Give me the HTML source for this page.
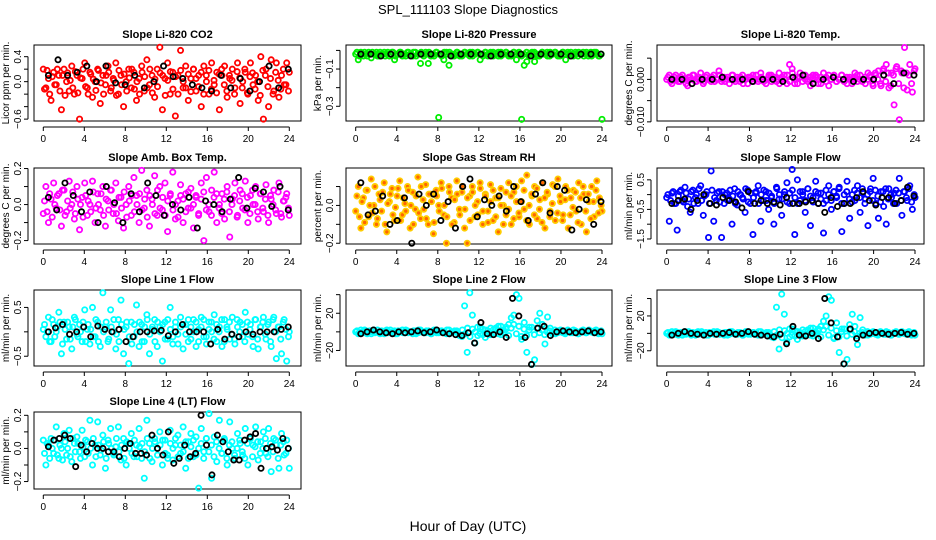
<!DOCTYPE html>
<html><head><meta charset="utf-8">
<style>
html,body{margin:0;padding:0;background:#fff;}
svg{display:block;font-family:"Liberation Sans",sans-serif;}
</style></head>
<body>
<svg id="chart" width="936" height="540" viewBox="0 0 936 540" xmlns="http://www.w3.org/2000/svg">
<text x="468" y="14" text-anchor="middle" font-size="13">SPL_111103  Slope Diagnostics</text>
<text x="468" y="531" text-anchor="middle" font-size="14">Hour of Day (UTC)</text>
</svg>
<script>
const hourTicks = [0,4,8,12,16,20,24];

const co2Vals = [0.2,-0.1,0.05,-0.3,0.15,-0.05,0.1,-0.45,0.2,0.0,-0.15,0.25,-0.2,0.1,-0.6,0.05,0.3,-0.1,0.15,-0.25,0.0,0.2,-0.35,0.1,-0.05,0.25,-0.15,0.05,0.3,-0.2,0.1,-0.4,0.0,0.2,-0.1,0.15,-0.3,0.05,0.25,-0.15,0.35,-0.05,0.1,-0.25,0.2,0.55,-0.45,0.05,0.3,-0.2,0.15,-0.55,0.1,0.5,-0.1,0.25,-0.3,0.05,0.2,-0.15,0.1,-0.4,0.25,0.0,-0.2,0.3,-0.05,0.15,-0.45,0.1,0.25,-0.25,0.05,0.2,-0.1,0.3,-0.35,0.0,0.15,-0.2,0.3,-0.05,0.1,-0.3,0.4,-0.6,0.2,-0.4,0.35,-0.15,0.3,-0.25,0.1,-0.05,0.3,0.15];
const co2Vals2 = [-0.12,0.18,-0.2,0.08,-0.05,0.2,-0.15,0.1,-0.22,0.14,0.02,-0.1,0.16,-0.18,0.06,0.2,-0.08,-0.2,0.12,0.04,-0.14,0.18,-0.02,-0.2,0.1,0.15,-0.1,0.02,-0.22,0.18,-0.05,0.12,-0.15,0.06,0.2,-0.12,0.0,-0.2,0.15,0.08,-0.1,0.2,-0.18,0.04,-0.08,0.14,0.1,-0.22,0.02,0.16,-0.12,0.08,-0.2,0.18,0.0,-0.1,0.12,-0.16,0.2,0.05,-0.08,0.15,-0.2,0.1,0.18,-0.12,0.02,-0.18,0.12,0.2,-0.05,-0.15,0.1,0.02,-0.2,0.16,0.06,-0.1,0.2,-0.18,0.08,0.14,-0.12,0.0,-0.22,0.18,0.1,-0.08,0.05,-0.2,0.15,0.02,-0.12,0.2,-0.05,-0.15];
const co2Black = [0.1,0.35,0.1,0.15,0.25,0.0,0.25,-0.02,-0.05,0.1,-0.1,0.0,0.25,0.08,0.05,-0.05,-0.1,-0.15,0.1,-0.1,0.05,-0.15,0.0,0.25,-0.1,0.2];

const presVals = [-0.02,-0.05,-0.01,-0.03,-0.02,-0.01,-0.04,-0.02,-0.01,-0.03,-0.02,-0.01,-0.02,-0.03,-0.01,-0.05,-0.02,-0.01,-0.03,-0.02,-0.01,-0.02,-0.03,-0.01,-0.02,-0.07,-0.02,-0.01,-0.07,-0.03,-0.02,-0.01,-0.36,-0.02,-0.05,-0.01,-0.08,-0.02,-0.03,-0.01,-0.02,-0.03,-0.01,-0.02,-0.03,-0.01,-0.02,-0.01,-0.05,-0.02,-0.01,-0.03,-0.02,-0.01,-0.02,-0.03,-0.01,-0.02,-0.01,-0.03,-0.02,-0.01,-0.05,-0.02,-0.37,-0.08,-0.06,-0.02,-0.01,-0.06,-0.03,-0.02,-0.01,-0.02,-0.03,-0.01,-0.02,-0.01,-0.03,-0.02,-0.01,-0.05,-0.02,-0.01,-0.03,-0.02,-0.01,-0.02,-0.03,-0.01,-0.02,-0.03,-0.01,-0.02,-0.03,-0.37];
const presVals2 = [-0.01,-0.03,-0.02,-0.01,-0.03,-0.02,-0.01,-0.02,-0.03,-0.01,-0.02,-0.03,-0.01,-0.02,-0.01,-0.03,-0.02,-0.01,-0.02,-0.03,-0.01,-0.02,-0.01,-0.03,-0.02,-0.01,-0.03,-0.02,-0.01,-0.02,-0.03,-0.01,-0.02,-0.03,-0.01,-0.02,-0.01,-0.03,-0.02,-0.01,-0.03,-0.02,-0.01,-0.02,-0.01,-0.03,-0.02,-0.01,-0.02,-0.03,-0.01,-0.02,-0.01,-0.03,-0.02,-0.01,-0.03,-0.02,-0.01,-0.02,-0.03,-0.01,-0.02,-0.01,-0.03,-0.02,-0.01,-0.03,-0.02,-0.01,-0.02,-0.03,-0.01,-0.02,-0.01,-0.03,-0.02,-0.01,-0.02,-0.03,-0.01,-0.02,-0.01,-0.03,-0.02,-0.01,-0.03,-0.02,-0.01,-0.02,-0.03,-0.01,-0.02,-0.01,-0.03,-0.02];
const presBlack = [-0.02,-0.02,-0.03,-0.02,-0.02,-0.03,-0.02,-0.02,-0.02,-0.03,-0.02,-0.02,-0.02,-0.03,-0.02,-0.02,-0.02,-0.03,-0.02,-0.02,-0.02,-0.03,-0.02,-0.02,-0.02];

const tempVals = [0.0,0.001,-0.001,0.0005,0.0,-0.0005,0.001,0.0,-0.0015,0.0005,0.001,-0.0005,0.0,0.0015,-0.001,0.0005,0.0,-0.0005,0.001,0.0,0.002,-0.0005,0.0005,0.0,-0.001,0.001,0.0,0.0005,-0.0005,0.001,0.0,-0.001,0.0005,0.001,0.0,-0.0005,0.0015,0.0,-0.001,0.0005,0.001,0.0,-0.0005,0.0015,0.0,0.001,-0.001,0.0035,0.0025,-0.001,0.0005,0.0015,-0.0005,0.001,0.0,-0.0015,0.001,0.0005,0.0,-0.001,0.0015,0.0005,-0.0015,0.0,0.001,-0.0005,0.0,0.001,0.0,-0.001,0.0005,0.0,0.0015,-0.0005,0.001,0.0,-0.001,0.0015,0.0005,-0.0015,0.001,0.002,-0.0015,0.0025,0.0035,-0.002,0.0015,-0.006,0.003,-0.0095,0.0015,0.0075,-0.0025,0.0035,-0.003,0.0025];
const tempVals2 = [0.0005,-0.0005,0.0,0.001,-0.0005,0.0005,0.0,-0.001,0.0005,0.0,0.001,-0.0005,0.0005,0.0,-0.0005,0.001,0.0,0.0005,-0.0005,0.0,0.001,0.0,-0.0005,0.0005,0.0,0.001,-0.0005,0.0,0.0005,-0.001,0.0,0.0005,0.0,-0.0005,0.001,0.0,0.0005,-0.0005,0.0,0.001,-0.0005,0.0005,0.0,-0.001,0.0005,0.0,0.001,-0.0005,0.0015,0.0,-0.001,0.0005,0.001,0.0,-0.0005,0.0005,0.0,0.001,-0.001,0.0005,0.0,-0.0005,0.001,0.0,0.0005,-0.0005,0.0,0.001,-0.0005,0.0005,0.0,-0.001,0.0005,0.001,0.0,-0.0005,0.0005,0.0,0.001,-0.001,0.0015,0.0,-0.001,0.002,-0.0005,0.0015,-0.0015,0.001,0.0025,-0.001,0.002,-0.002,0.0015,0.001,-0.001,0.002];
const tempBlack = [0.0,0.0,-0.001,0.0,0.0,0.0005,0.0,0.0,-0.0005,0.0,0.0,-0.0005,0.0005,0.001,-0.001,0.0,0.0005,0.0,-0.0005,0.0,0.0,0.001,-0.001,0.0015,0.001];

const ambVals = [-0.05,0.1,-0.1,0.03,0.12,-0.02,0.06,-0.12,0.08,-0.04,0.13,0.0,-0.08,0.1,-0.14,0.04,0.12,-0.06,0.0,0.13,-0.1,0.06,-0.03,0.1,-0.12,0.02,0.08,-0.05,0.12,-0.09,0.04,-0.13,0.0,0.1,-0.06,0.15,0.05,-0.1,0.19,-0.02,0.08,-0.12,0.03,0.16,-0.06,0.1,-0.03,0.12,-0.15,0.05,0.18,-0.08,0.02,0.11,-0.1,0.06,-0.02,0.09,-0.13,0.04,-0.05,0.12,-0.2,0.15,-0.04,0.08,0.18,-0.1,0.0,0.06,-0.08,0.1,-0.18,0.03,0.12,-0.06,0.08,-0.02,0.13,-0.1,0.05,0.0,0.1,-0.08,0.06,-0.04,0.11,-0.1,0.03,0.08,-0.05,0.12,-0.07,0.02,0.06,-0.06];
const ambVals2 = [0.02,-0.04,0.06,-0.07,0.0,0.05,-0.03,0.08,-0.06,0.02,-0.02,0.07,-0.05,0.03,0.0,-0.07,0.05,0.02,-0.04,0.07,-0.02,0.0,0.06,-0.06,0.03,-0.03,0.08,0.0,-0.05,0.04,-0.02,0.07,-0.07,0.02,0.05,-0.04,0.0,0.06,-0.03,0.03,-0.07,0.05,0.0,-0.05,0.08,-0.02,0.04,-0.06,0.02,0.06,-0.03,0.0,-0.07,0.05,0.03,-0.04,0.07,-0.02,0.0,0.05,-0.06,0.03,0.07,-0.03,0.0,-0.06,0.04,0.06,-0.02,-0.05,0.03,0.07,-0.04,0.0,0.05,-0.07,0.02,0.06,-0.03,0.04,-0.05,0.08,0.0,-0.04,0.06,-0.02,0.03,-0.06,0.05,0.0,-0.03,0.07,-0.05,0.02,0.04,-0.02];
const ambBlack = [0.04,-0.03,0.12,0.05,-0.04,0.07,-0.1,0.1,0.01,-0.1,0.06,-0.04,0.12,0.05,-0.06,0.0,-0.03,0.04,-0.13,0.02,0.0,-0.04,0.03,0.15,-0.02,0.09,0.07,-0.01,0.1,-0.03];

const rhVals = [-0.03,0.1,-0.12,0.04,0.08,-0.06,0.14,0.0,-0.1,0.06,-0.03,0.12,-0.14,0.02,0.09,-0.08,0.05,0.13,-0.05,0.01,0.1,-0.12,0.07,-0.02,0.15,-0.07,0.03,0.11,-0.1,0.06,-0.15,0.08,0.0,0.12,-0.05,-0.2,0.1,0.04,-0.09,0.13,-0.02,0.07,-0.12,-0.2,0.05,0.1,-0.06,0.02,0.12,-0.1,0.06,-0.03,0.11,-0.08,0.04,-0.14,0.09,0.0,-0.05,0.12,-0.1,0.07,0.02,-0.06,0.13,-0.02,0.16,-0.1,0.05,0.1,-0.07,0.03,0.12,-0.12,0.06,-0.03,0.11,-0.08,0.14,0.02,-0.05,0.1,-0.12,0.04,0.08,-0.03,0.12,-0.1,0.06,-0.14,0.02,0.1,-0.06,0.13,0.04,-0.03];
const rhVals2 = [0.05,-0.06,0.02,-0.09,0.08,0.0,-0.04,0.1,-0.07,0.03,0.07,-0.1,0.01,0.06,-0.05,-0.01,0.09,-0.08,0.04,-0.03,0.08,0.0,-0.1,0.05,-0.04,0.1,-0.02,-0.07,0.06,0.02,-0.09,0.05,-0.03,0.09,0.0,-0.06,0.07,-0.1,0.03,0.06,-0.05,0.1,-0.02,0.04,-0.08,0.07,0.0,-0.05,0.09,-0.03,0.05,-0.09,0.02,0.08,-0.06,0.04,0.0,-0.1,0.07,-0.02,0.05,-0.07,0.1,-0.04,0.02,0.08,-0.08,0.0,0.06,-0.05,0.09,-0.02,-0.09,0.04,0.07,-0.06,0.01,0.1,-0.04,0.05,-0.08,0.03,0.08,-0.05,-0.01,0.07,-0.09,0.04,0.1,-0.03,0.06,-0.07,0.02,0.08,-0.04,0.0];
const rhBlack = [0.12,-0.05,-0.03,0.05,-0.1,-0.08,0.04,-0.2,0.06,0.0,0.06,-0.08,0.02,-0.12,0.1,0.14,-0.06,0.03,0.0,0.05,-0.03,0.1,0.02,-0.08,0.06,0.12,-0.04,0.1,0.08,-0.13,-0.02,0.03,-0.1,0.02];

const flowVals = [-0.1,-0.9,0.05,-0.3,-1.2,0.1,-0.2,0.25,-0.4,-0.6,0.15,-0.1,-0.3,0.3,-0.7,0.0,-1.45,0.8,-0.9,-0.2,0.1,-1.45,-0.3,0.05,-0.15,-1.0,0.2,-0.35,0.0,-0.1,-0.6,0.15,-0.3,-1.35,0.05,0.3,-0.9,-0.2,0.1,-0.5,-0.1,-1.0,0.25,-0.15,-0.7,0.0,0.4,-0.3,0.85,-1.35,0.5,-0.2,0.1,-0.6,0.2,-1.05,-0.1,0.45,-0.3,0.05,-1.3,-0.2,0.3,-0.5,0.1,-0.1,0.25,-1.25,-0.3,0.45,-0.8,0.0,-0.2,0.3,-0.6,0.05,-0.15,-1.05,0.2,0.55,-0.3,-0.8,0.1,-0.4,-1.0,0.2,-0.1,0.05,-0.3,0.55,-0.7,0.1,-0.2,0.3,-0.5,-0.1];
const flowVals2 = [0.0,-0.2,0.1,-0.3,-0.05,0.15,-0.25,0.05,-0.15,0.1,-0.3,0.0,0.2,-0.2,-0.05,0.1,-0.3,0.15,-0.1,0.05,-0.25,0.1,0.0,-0.2,0.15,-0.05,-0.3,0.1,0.0,-0.15,0.2,-0.25,0.05,-0.1,0.1,-0.3,0.0,0.15,-0.2,0.05,-0.05,-0.3,0.2,0.0,-0.15,0.1,-0.25,0.05,0.15,-0.1,-0.3,0.1,0.0,-0.2,0.2,-0.05,-0.25,0.1,0.05,-0.15,-0.3,0.15,0.0,-0.2,0.1,-0.05,0.2,-0.3,0.0,0.1,-0.15,-0.25,0.15,0.05,-0.1,0.2,-0.3,0.0,0.1,-0.2,0.15,-0.05,-0.25,0.1,0.2,-0.15,0.0,-0.3,0.15,0.05,-0.2,0.1,-0.1,0.2,-0.25,0.0];
const flowBlack = [-0.3,-0.2,-0.15,-0.5,-0.2,0.0,-0.3,-0.35,-0.1,-0.2,-0.25,-0.45,0.1,-0.3,-0.2,-0.3,-0.25,-0.35,-0.1,-0.3,-0.3,-0.25,-0.2,-0.3,-0.6,-0.1,-0.4,-0.3,-0.3,-0.1,0.1,-0.2,-0.35,-0.1,-0.1,-0.3,-0.2,0.25,-0.05];

const l1Vals = [0.05,-0.1,0.3,-0.2,0.15,0.0,0.4,-0.45,0.2,-0.15,0.1,-0.35,0.3,-0.05,0.15,-0.2,0.45,0.05,-0.25,0.5,-0.1,0.2,-0.3,0.8,0.1,-0.2,0.45,0.0,-0.35,0.25,0.65,-0.45,0.1,-0.65,0.2,-0.1,0.55,-0.3,0.15,-0.2,0.35,-0.45,0.05,0.25,-0.3,0.1,-0.6,0.2,-0.15,0.5,-0.25,0.1,-0.05,0.3,-0.35,0.15,-0.2,0.1,0.25,-0.3,0.05,0.3,-0.1,-0.25,0.2,0.0,0.35,-0.2,0.1,-0.3,0.25,0.05,-0.15,0.3,-0.25,0.1,0.2,-0.1,0.4,-0.05,0.15,-0.3,0.25,-0.35,0.1,0.3,-0.15,0.2,-0.3,0.3,-0.55,0.1,-0.45,0.25,-0.6,0.0];
const l1Vals2 = [0.15,0.0,-0.2,0.25,-0.1,0.1,0.2,-0.25,0.05,0.2,-0.15,0.1,0.25,-0.1,0.0,0.2,-0.2,0.15,0.05,-0.1,0.25,-0.2,0.1,0.0,0.2,-0.15,0.1,0.25,-0.05,-0.2,0.15,0.05,0.2,-0.1,-0.25,0.15,0.0,0.2,-0.2,0.1,0.25,-0.05,0.1,-0.2,0.2,0.0,0.15,-0.15,0.25,0.05,-0.1,0.2,-0.25,0.1,0.15,-0.05,0.25,-0.15,0.0,0.2,-0.2,0.1,0.25,-0.1,0.05,0.2,-0.15,0.15,0.0,0.25,-0.2,0.1,0.2,-0.05,-0.15,0.25,0.0,0.15,-0.2,0.2,0.05,-0.1,0.25,-0.15,0.1,0.2,-0.05,0.15,-0.2,0.25,0.0,0.1,-0.15,0.2,0.05,-0.1];
const l1Black = [0.0,0.08,0.15,-0.05,0.0,0.1,-0.1,0.12,0.05,0.0,0.05,-0.2,-0.1,0.0,0.0,0.02,0.03,-0.08,0.0,0.15,0.0,0.0,0.0,-0.25,0.05,-0.15,-0.05,-0.1,0.0,-0.05,0.0,0.0,0.0,0.05,0.1];

const l2Vals = [0,-2,2,-1,1,0,-2,2,0,-1,1,-2,2,0,-1,1,-2,0,2,-1,1,0,-2,1,-1,2,0,-1,1,-2,0,2,-1,1,0,-2,2,-1,0,1,-4,-5,28,-22,42,18,-12,5,-2,3,-6,1,-3,2,4,-2,6,-1,3,8,15,18,40,36,-8,10,-22,5,-35,-30,12,20,8,-13,16,4,0,-2,1,2,-1,0,1,-1,2,0,-2,1,0,-1,2,0,1,-1,0,-2];
const l2Vals2 = [1,-1,0,2,-2,1,0,-1,2,-2,0,1,-1,2,0,-2,1,0,-1,2,-1,0,1,-2,2,0,-1,1,0,-2,2,-1,0,1,-1,2,-2,0,1,-1,-3,2,-2,4,-5,3,0,-4,5,-3,2,-2,4,-1,3,6,-3,2,5,-4,4,8,-2,6,-5,3,-4,2,5,-3,4,-1,2,-3,0,1,-2,2,-1,0,1,-2,2,0,-1,1,-2,0,2,-1,1,0,-1,2,-2,1];
const l2Black = [-2,0,2,0,-1,-2,0,-1,0,1,-1,0,2,-1,-2,-3,-4,-1,-12,10,-2,-3,0,-6,36,17,-6,-35,4,6,-4,0,1,0,-1,0,1,-1,0];

const l3Vals = [0,-2,2,-1,1,0,-2,2,0,-1,1,-2,2,0,-1,1,-2,0,2,-1,1,0,-2,1,-1,2,0,-1,1,-2,0,2,-1,1,0,-2,2,-1,0,1,-4,-5,30,-18,45,22,-10,5,-2,3,-7,1,-3,2,4,-2,6,-1,3,8,14,20,42,38,-6,12,-22,5,-35,-30,10,22,8,-13,18,4,0,-2,1,2,-1,0,1,-1,2,0,-2,1,0,-1,2,0,1,-1,0,-2];
const l3Vals2 = [1,-1,0,2,-2,1,0,-1,2,-2,0,1,-1,2,0,-2,1,0,-1,2,-1,0,1,-2,2,0,-1,1,0,-2,2,-1,0,1,-1,2,-2,0,1,-1,-3,2,-2,4,-5,3,0,-4,5,-3,2,-2,4,-1,3,6,-3,2,5,-4,4,8,-2,6,-5,3,-4,2,5,-3,4,-1,2,-3,0,1,-2,2,-1,0,1,-2,2,0,-1,1,-2,0,2,-1,1,0,-1,2,-2,1];
const l3Black = [-2,0,2,0,-1,-2,0,-1,0,1,-1,0,2,-1,-2,-3,-4,-1,-12,8,-2,-3,0,-6,40,12,-4,-35,5,-6,-2,0,1,0,-1,0,1,-1,0];

const l4Vals = [0.05,-0.1,0.02,0.06,-0.03,0.13,-0.06,0.0,0.09,-0.04,0.11,-0.08,0.03,0.07,-0.02,0.11,-0.05,0.04,0.17,-0.1,0.02,0.16,-0.04,0.08,-0.12,0.05,0.12,-0.03,0.01,0.13,-0.07,0.06,-0.1,0.03,0.09,-0.05,0.02,0.12,-0.06,-0.18,0.17,0.03,-0.08,0.06,0.0,0.1,-0.1,0.05,-0.04,0.11,-0.07,0.02,0.08,-0.03,0.13,-0.12,0.04,0.09,-0.05,0.07,-0.24,0.12,-0.02,0.06,0.21,-0.18,0.07,-0.08,0.17,-0.03,0.05,-0.1,0.16,0.0,-0.06,0.09,0.03,-0.04,0.12,-0.1,0.06,0.02,0.13,-0.07,0.04,0.1,-0.03,0.12,-0.14,0.06,0.02,-0.12,0.09,-0.04,0.05,-0.12];
const l4Vals2 = [-0.03,0.03,-0.06,0.0,0.05,-0.04,0.02,-0.07,0.04,0.0,-0.05,0.06,-0.02,0.03,-0.06,0.01,0.05,-0.03,0.0,0.06,-0.05,0.02,-0.01,0.04,-0.06,0.03,0.0,-0.04,0.06,-0.02,0.02,-0.06,0.04,0.0,-0.03,0.05,-0.05,0.01,0.03,-0.02,0.06,-0.06,0.0,0.04,-0.04,0.02,0.05,-0.03,-0.06,0.03,0.0,0.06,-0.05,0.02,-0.02,0.04,-0.06,0.01,0.05,-0.04,0.0,0.03,-0.06,0.06,-0.02,0.02,-0.05,0.04,0.0,-0.03,0.06,-0.06,0.02,0.04,-0.04,0.0,0.05,-0.02,-0.06,0.03,0.06,-0.05,0.01,0.04,-0.03,0.0,0.06,-0.05,0.03,-0.02,0.05,-0.06,0.02,0.04,-0.03,0.0];
const l4Black = [0.01,0.05,0.06,0.08,0.06,-0.11,0.02,-0.02,0.03,0.0,0.0,-0.02,-0.02,-0.05,0.0,0.03,-0.03,-0.03,-0.04,0.08,0.0,-0.04,0.1,-0.09,-0.06,0.02,-0.05,-0.03,0.2,0.02,-0.16,0.08,0.04,-0.02,-0.07,-0.07,0.05,0.07,0.09,-0.12,0.0,0.01,-0.01,0.06,0.0];

const NS = "http://www.w3.org/2000/svg";
const svg = document.getElementById('chart');
function mk(tag, attrs, parent){
  const e = document.createElementNS(NS, tag);
  for (const k in attrs) e.setAttribute(k, attrs[k]);
  (parent||svg).appendChild(e);
  return e;
}
const cols = [{l:34,r:301,x0:43.3,x24:289.3},{l:346,r:612,x0:355.7,x24:602},{l:657,r:924,x0:666.7,x24:915}];
const rows = [{t:45,b:121},{t:168,b:244},{t:290,b:366},{t:412,b:489}];

function P(c, r, title, ylab, lo, hi, yticks, ylabels, vals, vals2, black, color, fill, key){
  const C = cols[c], R = rows[r];
  const g = mk('g', {});
  
  
  const xs = h => C.x0 + (C.x24 - C.x0) * h / 24;
  const ys = v => R.b - (v - lo) / (hi - lo) * (R.b - R.t);
  const box = mk('rect', {x:C.l, y:R.t, width:C.r-C.l, height:R.b-R.t, fill:'none', stroke:'#000', 'stroke-width':1}, g);
  
  
  const t = mk('text', {x:(C.l+C.r)/2, y:R.t-7, 'text-anchor':'middle', 'font-size':11, 'font-weight':'bold'}, g);
  t.textContent = title;
  
  
  const xa = mk('line', {x1:xs(0), x2:xs(24), y1:R.b+6, y2:R.b+6, stroke:'#000'}, g);
  
  
  hourTicks.forEach(h => {
    mk('line', {x1:xs(h), x2:xs(h), y1:R.b+6, y2:R.b+10, stroke:'#000'}, g);
    const tl = mk('text', {x:xs(h), y:R.b+21, 'text-anchor':'middle', 'font-size':10}, g);
    tl.textContent = h;
    
    
  });
  const ya = mk('line', {x1:C.l-6, x2:C.l-6, y1:ys(yticks[0]), y2:ys(yticks[yticks.length-1]), stroke:'#000'}, g);
  
  
  yticks.forEach(v => mk('line', {x1:C.l-10, x2:C.l-6, y1:ys(v), y2:ys(v), stroke:'#000'}, g));
  ylabels.forEach(x => {
    const tl = mk('text', {x:0, y:0, 'text-anchor':'middle', 'font-size':10,
      transform:'translate(' + (C.l-13) + ',' + ys(x[0]) + ') rotate(-90)'}, g);
    tl.textContent = x[1];
    
    
  });
  const yl = mk('text', {x:0, y:0, 'text-anchor':'middle', 'font-size':10,
    transform:'translate(' + (C.l-25) + ',' + ((R.t+R.b)/2) + ') rotate(-90)'}, g);
  yl.textContent = ylab;
  
  
  vals.forEach((v, i) => {
    const p = mk('circle', {cx:xs(i*24/(vals.length-1)), cy:ys(v), r:2.6, fill:fill, stroke:color, 'stroke-width':1.8}, g);
    
    
  });
  vals2.forEach((v, i) => {
    const p = mk('circle', {cx:xs(0.12 + i*23.8/(vals2.length-1)), cy:ys(v), r:2.6, fill:fill, stroke:color, 'stroke-width':1.8}, g);
    
    
  });
  black.forEach((v, i) => {
    const p = mk('circle', {cx:xs(0.5 + i*23.4/(black.length-1)), cy:ys(v), r:2.6, fill:'none', stroke:'#000', 'stroke-width':1.8}, g);
    
    
  });
}
P(0,0,'Slope Li-820 CO2','Licor ppm per min.',-0.63,0.587,[-0.6,-0.4,-0.2,0,0.2,0.4],[[0.4,'0.4'],[0,'0.0'],[-0.6,'\u22120.6']],co2Vals,co2Vals2,co2Black,'#ff0000','none','co2');
P(1,0,'Slope Li-820 Pressure','kPa per min.',-0.379,0.029,[-0.3,-0.2,-0.1,0],[[-0.1,'\u22120.1'],[-0.3,'\u22120.3']],presVals,presVals2,presBlack,'#00ee00','none','pressure');
P(2,0,'Slope Li-820 Temp.','degrees C per min.',-0.0098,0.0081,[-0.01,-0.005,0,0.005],[[0,'0.000'],[-0.01,'\u22120.010']],tempVals,tempVals2,tempBlack,'#ff00ff','none','li820-temp');
P(0,1,'Slope Amb. Box Temp.','degrees C per min.',-0.219,0.203,[-0.2,-0.1,0,0.1,0.2],[[0.2,'0.2'],[0,'0.0'],[-0.2,'\u22120.2']],ambVals,ambVals2,ambBlack,'#ff00ff','none','amb-temp');
P(1,1,'Slope Gas Stream RH','percent per min.',-0.204,0.198,[-0.2,-0.1,0,0.1],[[0,'0.0'],[-0.2,'\u22120.2']],rhVals,rhVals2,rhBlack,'#ffcc00','#ff6600','rh');
P(2,1,'Slope Sample Flow','ml/min per min.',-1.67,0.9,[-1.5,-1,-0.5,0,0.5],[[0.5,'0.5'],[-0.5,'\u22120.5'],[-1.5,'\u22121.5']],flowVals,flowVals2,flowBlack,'#0000ff','none','sample-flow');
P(0,2,'Slope Line 1 Flow','ml/min per min.',-0.70,0.857,[-0.5,0,0.5],[[0.5,'0.5'],[-0.5,'\u22120.5']],l1Vals,l1Vals2,l1Black,'#00ffff','none','line1');
P(1,2,'Slope Line 2 Flow','ml/min per min.',-36.7,45,[-20,0,20,40],[[20,'20'],[-20,'\u221220']],l2Vals,l2Vals2,l2Black,'#00ffff','none','line2');
P(2,2,'Slope Line 3 Flow','ml/min per min.',-37.5,49.8,[-20,0,20,40],[[20,'20'],[-20,'\u221220']],l3Vals,l3Vals2,l3Black,'#00ffff','none','line3');
P(0,3,'Slope Line 4 (LT) Flow','ml/min per min.',-0.245,0.22,[-0.2,-0.1,0,0.1,0.2],[[0.2,'0.2'],[0,'0.0'],[-0.2,'\u22120.2']],l4Vals,l4Vals2,l4Black,'#00ffff','none','line4');
</script>
</body></html>
